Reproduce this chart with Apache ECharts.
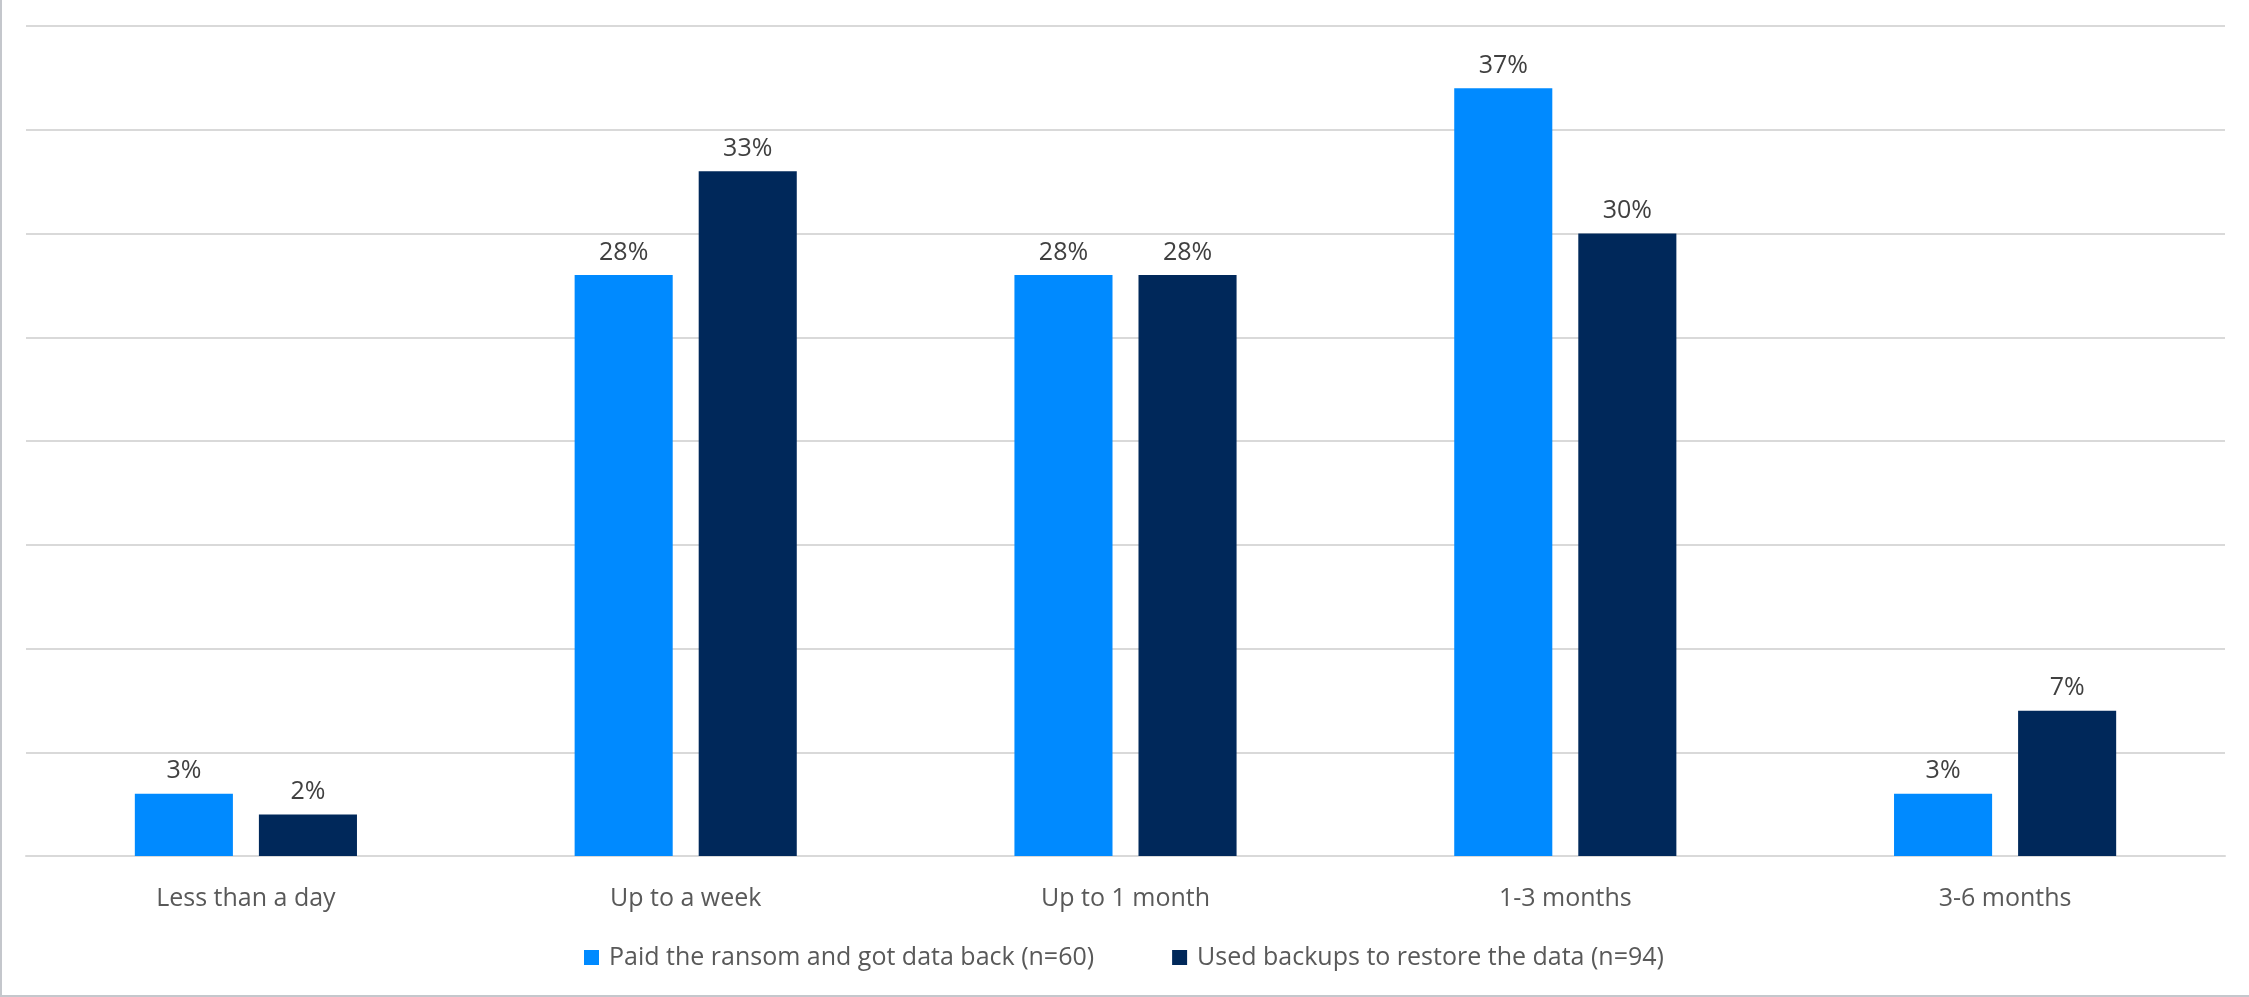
<!DOCTYPE html>
<html>
<head>
<meta charset="utf-8">
<script src="https://cdn.jsdelivr.net/npm/echarts@6/dist/echarts.min.js"></script>
<style>
html,body{margin:0;padding:0;background:#fff;}
#c{width:2249px;height:997px;box-sizing:border-box;border-left:2px solid #c4c7cc;border-bottom:2px solid #c4c7cc;}
</style>
</head>
<body>
<div id="c"></div>
<script>
const categories = ["Less than a day", "Up to a week", "Up to 1 month", "1-3 months", "3-6 months"];
const seriesNames = ["Paid the ransom and got data back (n=60)", "Used backups to restore the data (n=94)"];
const paidValues = [3, 28, 28, 37, 3];
const backupValues = [2, 33, 28, 30, 7];
const yTicks = [0, 5, 10, 15, 20, 25, 30, 35, 40];

const chart = echarts.init(document.getElementById('c'));
const font = '"Open Sans", "Noto Sans", sans-serif';
const labelCfg = {
  show: true, position: 'top', distance: 10,
  formatter: p => p.value + '%',
  fontFamily: font, fontSize: 25, color: '#404040'
};
chart.setOption({
  animation: false,
  textStyle: {fontFamily: font},
  grid: {left: 24, right: 24, top: 26, bottom: 139, containLabel: false},
  legend: {
    bottom: 20, left: 577,
    icon: 'rect', itemWidth: 15, itemHeight: 15, itemGap: 78,
    textStyle: {fontFamily: font, fontSize: 25, color: '#595959', padding: [0, 0, 0, 5]},
    data: seriesNames
  },
  xAxis: {
    type: 'category', data: categories,
    axisLine: {show: true, lineStyle: {color: '#d9d9d9', width: 2}},
    axisTick: {show: false},
    axisLabel: {fontFamily: font, fontSize: 25, color: '#595959', margin: 30}
  },
  yAxis: {
    type: 'value', min: yTicks[0], max: yTicks[yTicks.length - 1], interval: yTicks[1] - yTicks[0],
    axisLabel: {show: false}, axisLine: {show: false}, axisTick: {show: false},
    splitLine: {lineStyle: {color: '#d9d9d9', width: 2}}
  },
  series: [
    {name: seriesNames[0], type: 'bar', data: paidValues, barWidth: '22.3%', barGap: '26.5%',
     itemStyle: {color: '#008AFF'}, label: labelCfg},
    {name: seriesNames[1], type: 'bar', data: backupValues, barWidth: '22.3%', barGap: '26.5%',
     itemStyle: {color: '#00285A'}, label: labelCfg}
  ]
});
</script>
</body>
</html>
